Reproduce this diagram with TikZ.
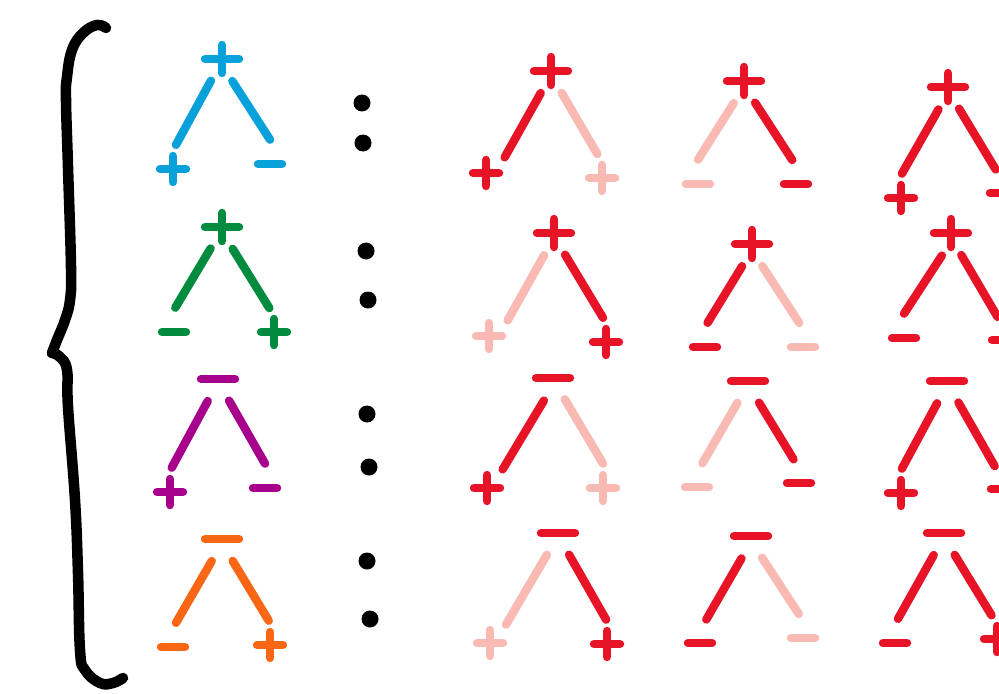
\documentclass[tikz,border=0pt]{standalone}
\usetikzlibrary{calc}
\definecolor{bluecol}{RGB}{8, 161, 217}
\definecolor{greencol}{RGB}{0, 139, 62}
\definecolor{purplecol}{RGB}{166, 0, 140}
\definecolor{orangecol}{RGB}{250, 103, 20}
\definecolor{redcol}{RGB}{230, 20, 38}
\definecolor{pinkcol}{RGB}{249, 186, 180}

\begin{document}
\begin{tikzpicture}[x=0.02cm, y=-0.02cm,
      stroke/.style={line width=4.8pt, line cap=round, line join=round},
      leg/.style={stroke, draw=#1},
      sgn/.style={circle, inner sep=0pt, minimum size=0.96cm},
      bigplus/.style={sgn, path picture={\draw[stroke, draw=#1] (path picture bounding box.center) ++(-17,0) -- ++(34,0) (path picture bounding box.center) ++(0,-14) -- ++(0,28);}},
      bigminus/.style={sgn, path picture={\draw[stroke, draw=#1] (path picture bounding box.center) ++(-17,0) -- ++(34,0);}},
      smallplus/.style={sgn, path picture={\draw[stroke, draw=#1] (path picture bounding box.center) ++(-13,0) -- ++(26,0) (path picture bounding box.center) ++(0,-13) -- ++(0,26);}},
      smallminus/.style={sgn, path picture={\draw[stroke, draw=#1] (path picture bounding box.center) ++(-12,0) -- ++(24,0);}},
      colondot/.style={circle, fill=black, inner sep=0pt, minimum size=0.34cm}]

      \clip (0,0) rectangle (999,693);

      % Accolade
      \draw[stroke, line width=6pt] plot[smooth, tension=0.7] coordinates {(106,28) (97,25) (83,33) (72,50) (67,77) (66,100) (68,167) (71,267) (70,300) (65,320) (57,340) (52,353)};
      \draw[stroke, line width=6pt] plot[smooth, tension=0.7] coordinates {(52,353) (60,357) (67,370) (68,407) (75,500) (78,573) (80,650) (85,670) (100,683) (113,683) (123,678)};

      % Colonne gauche (couleurs)
      \node[bigplus=bluecol] (t10) at (222,59) {};
      \node[smallplus=bluecol] (l10) at (173,169) {};
      \node[smallminus=bluecol] (r10) at (270,164) {};
      \draw[leg=bluecol] (t10.243) -- (l10.83);
      \draw[leg=bluecol] (t10.295) -- (r10.90);

      \node[bigplus=greencol] (t20) at (222,227) {};
      \node[smallminus=greencol] (l20) at (174,332) {};
      \node[smallplus=greencol] (r20) at (274,332) {};
      \draw[leg=greencol] (t20.242) -- (l20.87);
      \draw[leg=greencol] (t20.296) -- (r20.101);

      \node[bigminus=purplecol] (t30) at (218,379) {};
      \node[smallplus=purplecol] (l30) at (170,492) {};
      \node[smallminus=purplecol] (r30) at (265,488) {};
      \draw[leg=purplecol] (t30.245) -- (l30.86);
      \draw[leg=purplecol] (t30.297) -- (r30.90);

      \node[bigminus=orangecol] (t40) at (222,539) {};
      \node[smallminus=orangecol] (l40) at (173,647) {};
      \node[smallplus=orangecol] (r40) at (270,645) {};
      \draw[leg=orangecol] (t40.245) -- (l40.83);
      \draw[leg=orangecol] (t40.296) -- (r40.93);

      % Deux-points
      \node[colondot] (c1a) at (362,103) {};
      \node[colondot] (c1b) at (363,143) {};
      \node[colondot] (c2a) at (366,251) {};
      \node[colondot] (c2b) at (368,300) {};
      \node[colondot] (c3a) at (367,414) {};
      \node[colondot] (c3b) at (369,467) {};
      \node[colondot] (c4a) at (367,561) {};
      \node[colondot] (c4b) at (370,619) {};

      % Colonne A
      \node[bigplus=redcol] (t11) at (551,71) {};
      \node[smallplus=redcol] (l11) at (486,173) {};
      \node[smallplus=pinkcol] (r11) at (602,178) {};
      \draw[leg=redcol] (t11.245) -- (l11.40);
      \draw[leg=pinkcol] (t11.296) -- (r11.101);

      \node[bigplus=redcol] (t21) at (554,233) {};
      \node[smallplus=pinkcol] (l21) at (489,336) {};
      \node[smallplus=redcol] (r21) at (606,342) {};
      \draw[leg=pinkcol] (t21.246) -- (l21.40);
      \draw[leg=redcol] (t21.297) -- (r21.97);

      \node[bigminus=redcol] (t31) at (553,378) {};
      \node[smallplus=redcol] (l31) at (487,488) {};
      \node[smallplus=pinkcol] (r31) at (603,488) {};
      \draw[leg=redcol] (t31.248) -- (l31.50);
      \draw[leg=pinkcol] (t31.299) -- (r31.90);

      \node[bigminus=redcol] (t41) at (558,533) {};
      \node[smallplus=pinkcol] (l41) at (490,643) {};
      \node[smallplus=redcol] (r41) at (607,644) {};
      \draw[leg=pinkcol] (t41.243) -- (l41.49);
      \draw[leg=redcol] (t41.297) -- (r41.92);

      % Colonne B
      \node[bigplus=redcol] (t12) at (744,81) {};
      \node[smallminus=pinkcol] (l12) at (698,184) {};
      \node[smallminus=redcol] (r12) at (796,184) {};
      \draw[leg=pinkcol] (t12.245) -- (l12.90);
      \draw[leg=redcol] (t12.297) -- (r12.99);

      \node[bigplus=redcol] (t22) at (752,244) {};
      \node[smallminus=redcol] (l22) at (705,347) {};
      \node[smallminus=pinkcol] (r22) at (803,347) {};
      \draw[leg=redcol] (t22.246) -- (l22.84);
      \draw[leg=pinkcol] (t22.295) -- (r22.99);

      \node[bigminus=redcol] (t32) at (748,381) {};
      \node[smallminus=pinkcol] (l32) at (697,487) {};
      \node[smallminus=redcol] (r32) at (799,483) {};
      \draw[leg=pinkcol] (t32.244) -- (l32.77);
      \draw[leg=redcol] (t32.297) -- (r32.103);

      \node[bigminus=redcol] (t42) at (751,536) {};
      \node[smallminus=redcol] (l42) at (700,643) {};
      \node[smallminus=pinkcol] (r42) at (803,638) {};
      \draw[leg=redcol] (t42.247) -- (l42.75);
      \draw[leg=pinkcol] (t42.297) -- (r42.100);

      % Colonne C
      \node[bigplus=redcol] (t13) at (948,87) {};
      \node[smallplus=redcol] (l13) at (901,198) {};
      \node[smallminus=redcol] (r13) at (1002,193) {};
      \draw[leg=redcol] (t13.247) -- (l13.88);
      \draw[leg=redcol] (t13.297) -- (r13.105);

      \node[bigplus=redcol] (t23) at (951,233) {};
      \node[smallminus=redcol] (l23) at (904,338) {};
      \node[smallplus=redcol] (r23) at (1005,340) {};
      \draw[leg=redcol] (t23.248) -- (l23.90);
      \draw[leg=redcol] (t23.295) -- (r23.108);

      \node[bigminus=redcol] (t33) at (947,381) {};
      \node[smallplus=redcol] (l33) at (901,493) {};
      \node[smallminus=redcol] (r33) at (1003,489) {};
      \draw[leg=redcol] (t33.246) -- (l33.88);
      \draw[leg=redcol] (t33.298) -- (r33.110);

      \node[bigminus=redcol] (t43) at (944,533) {};
      \node[smallminus=redcol] (l43) at (895,643) {};
      \node[smallplus=redcol] (r43) at (997,639) {};
      \draw[leg=redcol] (t43.245) -- (l43.83);
      \draw[leg=redcol] (t43.296) -- (r43.103);
    \end{tikzpicture}
\end{document}
